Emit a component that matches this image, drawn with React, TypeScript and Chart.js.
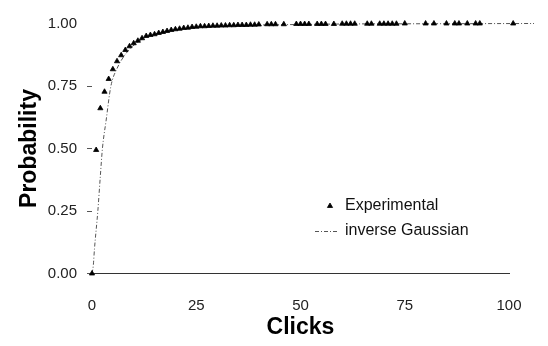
import React, { useEffect, useRef } from "react";
import { Chart, registerables } from "chart.js";

Chart.register(...registerables);

// ---- data ----
const expX = [
  0, 1, 2, 3, 4, 5, 6, 7, 8, 9, 10, 11, 12, 13, 14,
  15, 16, 17, 18, 19, 20, 21, 22, 23, 24, 25, 26, 27, 28, 29, 30,
  31, 32, 33, 34, 35, 36, 37, 38, 39, 40,
  42, 43, 44, 46, 49, 50, 51, 52, 54, 55, 56, 58, 60, 61, 62, 63,
  66, 67, 69, 70, 71, 72, 73, 75, 80, 82, 85, 87, 88, 90, 92, 93, 101, 102,
];
const expY = [
  0, 0.494, 0.661, 0.727, 0.778, 0.817, 0.849, 0.873, 0.894, 0.909, 0.921, 0.931, 0.941, 0.95, 0.954,
  0.957, 0.962, 0.966, 0.97, 0.974, 0.977, 0.979, 0.982, 0.983, 0.986, 0.987, 0.989, 0.989, 0.99, 0.991, 0.991,
  0.992, 0.992, 0.993, 0.993, 0.994, 0.994, 0.994, 0.995, 0.995, 0.996,
  0.997, 0.997, 0.997, 0.997, 0.998, 0.998, 0.998, 0.998, 0.998, 0.998, 0.998, 0.998, 0.999, 0.999, 0.999, 0.999,
  0.999, 0.999, 0.999, 0.999, 0.999, 0.999, 0.999, 1.0, 1.0, 1.0, 1.0, 1.0, 1.0, 1.0, 1.0, 1.0, 1.0, 1.0,
];
const curveX = [0, 0.3, 0.6, 1.4, 2.0, 2.5, 3.4, 4.5, 6.0, 8.2, 10.6, 13.1, 16, 20, 25, 30, 40, 50, 60, 80, 106];
const curveY = [0, 0.03, 0.1, 0.25, 0.39, 0.5, 0.614, 0.747, 0.82, 0.881, 0.921, 0.947, 0.962, 0.975, 0.984, 0.989, 0.994, 0.996, 0.998, 0.999, 1.0];

const seriesLabels = ["Experimental", "inverse Gaussian"];
const xTitle = "Clicks";
const yTitle = "Probability";
const xMin = 0, xMax = 100, xStep = 25;
const yMin = 0, yMax = 1, yStep = 0.25;

const FONT = "'Liberation Sans', Arial, Helvetica, sans-serif";
const CURVE_DASH = [4, 2, 1, 2];

const legendPlugin = {
  id: "customLegend",
  afterDraw(chart: any) {
    const ctx = chart.ctx as CanvasRenderingContext2D;
    const ds = chart.data.datasets;
    ctx.save();
    ctx.font = `16px ${FONT}`;
    ctx.textBaseline = "middle";
    ctx.textAlign = "left";
    const textX = 345;
    const rows = [206, 231];
    const r = 3;
    const cx = 330, cy = rows[0];
    ctx.beginPath();
    ctx.moveTo(cx, cy - r);
    ctx.lineTo(cx + 0.866 * r, cy + 0.5 * r);
    ctx.lineTo(cx - 0.866 * r, cy + 0.5 * r);
    ctx.closePath();
    ctx.fillStyle = "#000";
    ctx.strokeStyle = "#000";
    ctx.lineWidth = 0.8;
    ctx.fill();
    ctx.stroke();
    ctx.fillStyle = "#111";
    ctx.fillText(ds[0].label, textX, rows[0]);
    ctx.beginPath();
    ctx.setLineDash(CURVE_DASH);
    ctx.strokeStyle = "#555";
    ctx.lineWidth = 1;
    ctx.moveTo(315, rows[1] + 0.5);
    ctx.lineTo(339, rows[1] + 0.5);
    ctx.stroke();
    ctx.setLineDash([]);
    ctx.fillText(ds[1].label, textX, rows[1]);
    ctx.restore();
  },
};

export default function App() {
  const ref = useRef<HTMLCanvasElement | null>(null);
  useEffect(() => {
    if (!ref.current) return;
    Chart.defaults.font.family = FONT;
    const chart = new Chart(ref.current, {
      type: "scatter",
      data: {
        datasets: [
          {
            label: seriesLabels[0],
            data: expX.map((x, i) => ({ x, y: expY[i] })),
            pointStyle: "triangle",
            pointRadius: 3,
            backgroundColor: "#000",
            borderColor: "#000",
            borderWidth: 0.8,
            showLine: false,
            clip: false,
          },
          {
            label: seriesLabels[1],
            data: curveX.map((x, i) => ({ x, y: curveY[i] })),
            showLine: true,
            pointRadius: 0,
            borderColor: "#555",
            borderWidth: 1,
            borderDash: CURVE_DASH,
            cubicInterpolationMode: "monotone",
            clip: false,
          },
        ],
      },
      options: {
        animation: false,
        responsive: true,
        maintainAspectRatio: false,
        layout: { padding: { top: 23.5, right: 39, left: 0, bottom: 0 } },
        plugins: { legend: { display: false }, tooltip: { enabled: false } },
        scales: {
          x: {
            type: "linear",
            min: xMin,
            max: xMax,
            afterFit: (s: any) => { s.height = 72.5; },
            grid: { display: false },
            border: { display: true, color: "#333", width: 1 },
            ticks: {
              stepSize: xStep,
              padding: 15,
              color: "#222",
              font: { size: 15 },
              maxRotation: 0,
            },
            title: {
              display: true,
              text: xTitle,
              color: "#000",
              font: { size: 23, weight: "bold" },
              padding: { top: 0, bottom: 5 },
            },
          },
          y: {
            type: "linear",
            min: yMin,
            max: yMax,
            afterFit: (s: any) => { s.width = 92; },
            grid: {
              display: true,
              drawOnChartArea: false,
              drawTicks: true,
              tickLength: 5,
              color: (c: any) => (c.tick && c.tick.value === 1 ? "rgba(0,0,0,0)" : "#555"),
            },
            border: { display: false },
            ticks: {
              stepSize: yStep,
              padding: 10,
              color: "#222",
              font: { size: 15 },
              callback: (v: any) => Number(v).toFixed(2),
            },
            title: {
              display: true,
              text: yTitle,
              color: "#000",
              font: { size: 23, weight: "bold" },
              padding: { top: 16, bottom: 0 },
            },
          },
        },
      },
      plugins: [legendPlugin],
    });
    return () => chart.destroy();
  }, []);
  return (
    <div style={{ position: "fixed", left: 0, top: 0, width: 548, height: 346, background: "#fff" }}>
      <canvas ref={ref} />
    </div>
  );
}
